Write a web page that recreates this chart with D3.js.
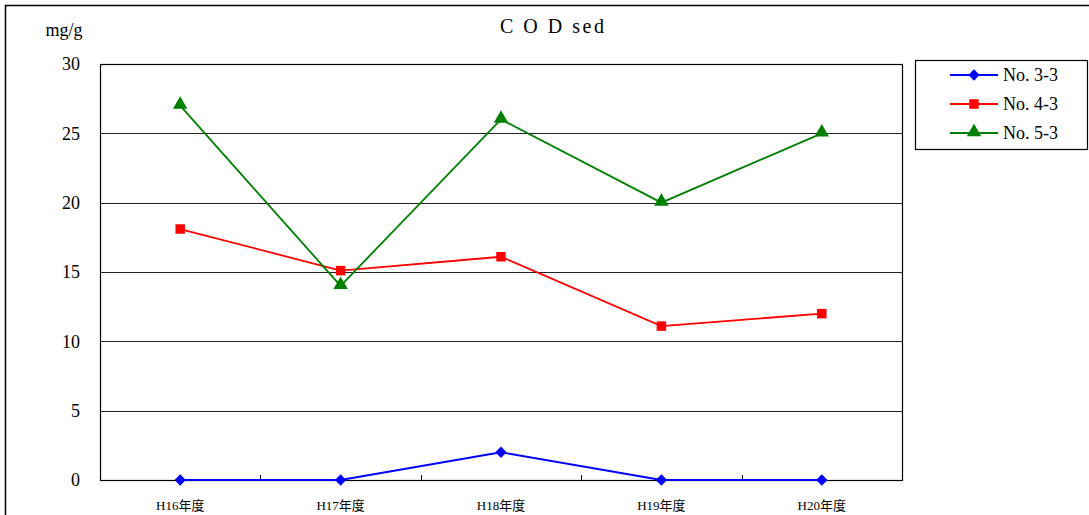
<!DOCTYPE html>
<html>
<head>
<meta charset="utf-8">
<script src="https://cdn.jsdelivr.net/npm/d3@7"></script>
<style>
  html, body { margin: 0; padding: 0; background: #fff; }
  svg { display: block; }
  svg text { font-family: "Times New Roman", Tinos, "Liberation Serif", "DejaVu Serif", "Noto Sans CJK JP", serif !important; }
</style>
</head>
<body>
<svg id="chart" width="1089" height="515"></svg>
<script>
// Survey years and COD (sediment) values per station, mg/g
const categories = ["H16年度", "H17年度", "H18年度", "H19年度", "H20年度"];
const seriesNames = ["No. 3-3", "No. 4-3", "No. 5-3"];
const no33 = [0, 0, 2, 0, 0];
const no43 = [18.1, 15.1, 16.1, 11.1, 12.0];
const no53 = [27, 14, 26, 20, 25];
const yTicks = [0, 5, 10, 15, 20, 25, 30];
const colors = ["#0000ff", "#ff0000", "#008000"];
const markers = ["diamond", "square", "triangle"];

const series = [no33, no43, no53].map((values, i) => ({
  name: seriesNames[i], values, color: colors[i], marker: markers[i]
}));

const svg = d3.select("#chart");
const plot = { left: 100, top: 64, right: 902, bottom: 480 };

// Outer chart frame
svg.append("rect")
  .attr("x", 5.5).attr("y", 5.5)
  .attr("width", 1100).attr("height", 520)
  .attr("fill", "none").attr("stroke", "#000").attr("stroke-width", 1.5);

const x = d3.scaleBand().domain(categories).range([plot.left, plot.right]);
const y = d3.scaleLinear().domain([0, 30]).range([plot.bottom, plot.top]);

// Horizontal gridlines
svg.append("g").selectAll("line")
  .data(yTicks.filter(t => t > 0 && t < 30))
  .join("line")
  .attr("x1", plot.left).attr("x2", plot.right)
  .attr("y1", d => Math.round(y(d)) + 0.5).attr("y2", d => Math.round(y(d)) + 0.5)
  .attr("stroke", "#222").attr("stroke-width", 1);

// Plot area border
svg.append("rect")
  .attr("x", plot.left + 0.5).attr("y", plot.top + 0.5)
  .attr("width", plot.right - plot.left).attr("height", plot.bottom - plot.top)
  .attr("fill", "none").attr("stroke", "#000").attr("stroke-width", 1.2);

// Y axis labels
const yAxis = d3.axisLeft(y).tickValues(yTicks).tickSize(0).tickPadding(20);
const gy = svg.append("g").attr("transform", `translate(${plot.left},0)`).call(yAxis)
  .attr("font-size", 18);
gy.select(".domain").remove();
gy.selectAll("text").attr("fill", "#000");

// X axis: tick marks at category boundaries pointing inward, labels centered
const boundaries = categories.slice(1).map(c => x(c));
svg.append("g").selectAll("line")
  .data(boundaries)
  .join("line")
  .attr("x1", d => Math.round(d) + 0.5).attr("x2", d => Math.round(d) + 0.5)
  .attr("y1", plot.bottom).attr("y2", plot.bottom - 5)
  .attr("stroke", "#000");

svg.append("g").selectAll("text")
  .data(categories)
  .join("text")
  .attr("x", d => x(d) + x.bandwidth() / 2)
  .attr("y", 510)
  .attr("text-anchor", "middle")
  .attr("font-size", 13)
  .text(d => d);

// Unit label and title
svg.append("text").attr("x", 64).attr("y", 36).attr("text-anchor", "middle")
  .attr("font-size", 18).text("mg/g");

svg.append("text").attr("x", 500).attr("y", 33).attr("font-size", 20)
  .attr("letter-spacing", 2.5)
  .text("C O D sed");

// Marker shapes
const symbolFor = {
  diamond: d3.symbol().type(d3.symbolSquare).size(64),
  square: d3.symbol().type(d3.symbolSquare).size(90),
  triangle: d3.symbol().type(d3.symbolTriangle).size(90)
};
const markerRotate = m => (m === "diamond" ? " rotate(45)" : "");
const markerShift = m => (m === "triangle" ? -1 : 0);

const line = d3.line()
  .x((d, i) => x(categories[i]) + x.bandwidth() / 2)
  .y(d => y(d));

series.forEach(s => {
  svg.append("path")
    .attr("d", line(s.values))
    .attr("fill", "none")
    .attr("stroke", s.color)
    .attr("stroke-width", 1.8);
  svg.append("g").selectAll("path")
    .data(s.values)
    .join("path")
    .attr("d", symbolFor[s.marker]())
    .attr("transform", (d, i) =>
      `translate(${x(categories[i]) + x.bandwidth() / 2},${y(d) + markerShift(s.marker)})${markerRotate(s.marker)}`)
    .attr("fill", s.color);
});

// Legend
const legend = svg.append("g");
legend.append("rect")
  .attr("x", 915.5).attr("y", 60.5)
  .attr("width", 172).attr("height", 89)
  .attr("fill", "#fff").attr("stroke", "#000").attr("stroke-width", 1.2);

series.forEach((s, i) => {
  const ly = 75 + i * 29;
  const row = legend.append("g");
  row.append("line")
    .attr("x1", 950).attr("x2", 998)
    .attr("y1", ly).attr("y2", ly)
    .attr("stroke", s.color).attr("stroke-width", 1.8);
  row.append("path")
    .attr("d", symbolFor[s.marker]())
    .attr("transform", `translate(974,${ly + markerShift(s.marker)})${markerRotate(s.marker)}`)
    .attr("fill", s.color);
  row.append("text")
    .attr("x", 1003).attr("y", ly + 6)
    .attr("font-size", 18)
    .text(s.name);
});
</script>
</body>
</html>
